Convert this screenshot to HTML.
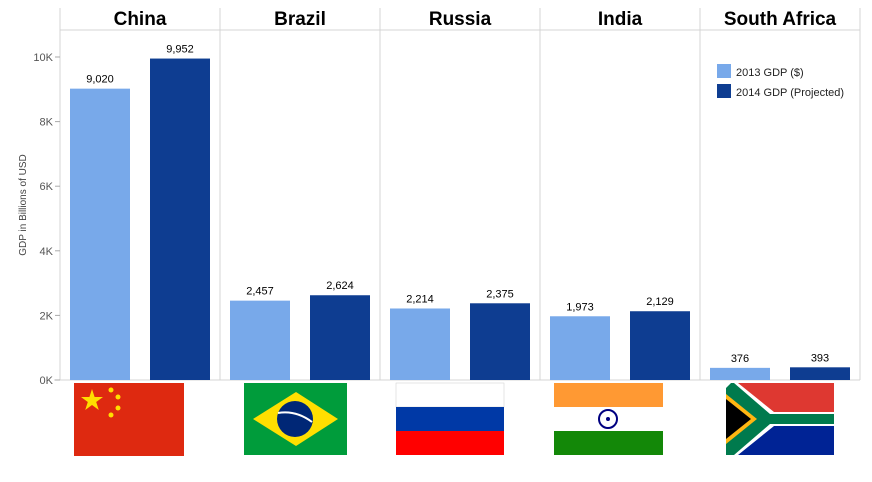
<!DOCTYPE html>
<html><head><meta charset="utf-8"><style>
body{margin:0;background:#fff;font-family:"Liberation Sans",Arial,sans-serif}
svg text{font-family:"Liberation Sans",Arial,sans-serif}
</style></head><body>
<svg id="c" width="872" height="477" xmlns="http://www.w3.org/2000/svg">
<g id="grid"></g>
<g id="bars"></g>
<g id="flags">
 <g>
  <rect x="74" y="383" width="110" height="73" fill="#de2910"/>
  <polygon points="92,389 94.6,397 103,397 96.2,402 98.8,410 92,405 85.2,410 87.8,402 81,397 89.4,397" fill="#ffde00"/>
  <circle cx="111" cy="390" r="2.5" fill="#ffde00"/><circle cx="118" cy="397" r="2.5" fill="#ffde00"/>
  <circle cx="118" cy="408" r="2.5" fill="#ffde00"/><circle cx="111" cy="415" r="2.5" fill="#ffde00"/>
 </g>
 <g>
  <rect x="244" y="383" width="103" height="72" fill="#009c3b"/>
  <polygon points="253,419 296,392 338,419 296,446" fill="#ffdf00"/>
  <circle cx="295" cy="419" r="18" fill="#002776"/>
  <path d="M278,413 Q296,410 312,422" stroke="#fff" stroke-width="2" fill="none"/>
 </g>
 <g>
  <rect x="396" y="383" width="108" height="24" fill="#fff" stroke="#ccc" stroke-width="0.5"/>
  <rect x="396" y="407" width="108" height="24" fill="#0039a6"/>
  <rect x="396" y="431" width="108" height="24" fill="#ff0000"/>
 </g>
 <g>
  <rect x="554" y="383" width="109" height="24" fill="#ff9933"/>
  <rect x="554" y="407" width="109" height="24" fill="#fff"/>
  <rect x="554" y="431" width="109" height="24" fill="#138808"/>
  <circle cx="608" cy="419" r="9" fill="none" stroke="#000080" stroke-width="2"/>
  <circle cx="608" cy="419" r="2" fill="#000080"/>
 </g>
 <g>
  <rect x="726" y="383" width="108" height="36" fill="#de3831"/>
  <rect x="726" y="419" width="108" height="36" fill="#002395"/>
  <polygon points="726,383 738,383 774,412 834,412 834,426 774,426 738,455 726,455" fill="#fff"/>
  <polygon points="726,388 731,383 734,383 770,414 834,414 834,424 770,424 734,455 726,455" fill="#007a4d"/>
  <polygon points="726,394 757,419 726,444" fill="#ffb612"/>
  <polygon points="726,399 751,419 726,439" fill="#000"/>
 </g>
</g>
<g>
 <rect x="717" y="64" width="14" height="14" fill="#78a9ea"/>
 <text x="736" y="76" font-size="11" fill="#222">2013 GDP ($)</text>
 <rect x="717" y="84" width="14" height="14" fill="#0e3d91"/>
 <text x="736" y="96" font-size="11" fill="#222">2014 GDP (Projected)</text>
</g>
</svg>
<script>
const countries=["China","Brazil","Russia","India","South Africa"];
const gdp2013=[9020,2457,2214,1973,376];
const gdp2014=[9952,2624,2375,2129,393];
const yTicks=[0,2000,4000,6000,8000,10000];
const yTickLabels=["0K","2K","4K","6K","8K","10K"];
const NS="http://www.w3.org/2000/svg";
const L=60,W=160,Y0=380,Y10=57;
function y(v){return Y0-(v/10000)*(Y0-Y10);}
function el(t,a,p,txt){const e=document.createElementNS(NS,t);for(const k in a)e.setAttribute(k,a[k]);if(txt!==undefined)e.textContent=txt;p.appendChild(e);return e;}
const g=document.getElementById('grid'),b=document.getElementById('bars');
const right=L+W*countries.length;
let ax=el('line',{x1:L,y1:8,x2:L,y2:Y0,stroke:"#d4d4d4"},g);


let hl=el('line',{x1:L,y1:30,x2:right,y2:30,stroke:"#d4d4d4"},g);


let bl=el('line',{x1:L-6,y1:Y0,x2:right,y2:Y0,stroke:"#d4d4d4"},g);


yTicks.forEach((t,i)=>{
 const tk=el('line',{x1:L-5,y1:y(t),x2:L,y2:y(t),stroke:"#aaa"},g);
 
 
 const tl=el('text',{x:L-7,y:y(t)+4,'text-anchor':'end','font-size':11,fill:'#555'},g,yTickLabels[i]);
 
 
});
const yt=el('text',{x:0,y:0,'font-size':10,fill:'#444','text-anchor':'middle',transform:'translate(26,205) rotate(-90)'},g,'GDP in Billions of USD');


countries.forEach((c,i)=>{
 const x0=L+W*i;
 const sep=el('line',{x1:x0+W,y1:8,x2:x0+W,y2:Y0,stroke:"#d4d4d4"},g);
 
 
 const h=el('text',{x:x0+W/2,y:25,'text-anchor':'middle','font-size':19,'font-weight':'bold',fill:'#000'},g,c);
 
 
 [[gdp2013[i],'#78a9ea',10],[gdp2014[i],'#0e3d91',90]].forEach((s,j)=>{
  const r=el('rect',{x:x0+s[2],y:y(s[0]),width:60,height:Y0-y(s[0]),fill:s[1]},b);
  
  
  const lb=el('text',{x:x0+s[2]+30,y:y(s[0])-6,'text-anchor':'middle','font-size':11,fill:'#000'},b,s[0].toLocaleString('en-US'));
  
  
 });
});
</script>
</body></html>
